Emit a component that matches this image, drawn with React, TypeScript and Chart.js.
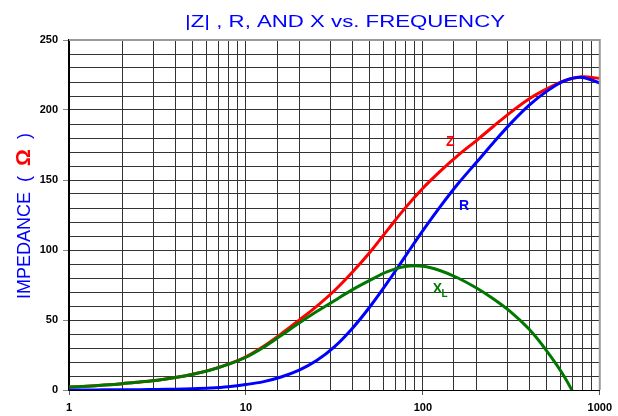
import { useEffect, useRef } from 'react';
import { Chart, registerables } from 'chart.js';

Chart.register(...registerables);

// ---- data (1/10-decade frequency steps) ----
const FREQ = [1, 1.26, 1.58, 2, 2.51, 3.16, 3.98, 5.01, 6.31, 7.94, 10, 12.6, 15.8, 20, 25.1, 31.6, 39.8, 50.1, 63.1, 79.4, 100, 126, 158, 200, 251, 316, 398, 501, 631, 794, 1000];
const Z_VALUES = [2.1, 2.7, 3.5, 4.5, 5.7, 7.0, 8.9, 11.3, 14.4, 18.5, 23.7, 31.2, 40.0, 49.9, 59.8, 70.9, 83.9, 98.2, 114.2, 129.9, 144.1, 156.5, 167.6, 178.0, 188.4, 198.7, 207.9, 215.1, 221.0, 223.7, 222.6];
const R_VALUES = [0.05, 0.07, 0.1, 0.15, 0.25, 0.4, 0.6, 0.95, 1.5, 2.4, 3.9, 6.0, 9.3, 14.2, 21.0, 30.8, 43.8, 59.3, 76.8, 95.3, 113.8, 131.3, 147.3, 162.3, 176.8, 190.8, 203.3, 213.3, 220.8, 223.3, 219.3];
const X_VALUES = [2.1, 2.7, 3.5, 4.5, 5.7, 7.0, 8.9, 11.3, 14.3, 18.3, 23.4, 30.6, 38.9, 47.8, 56.0, 63.8, 71.5, 78.3, 84.5, 88.2, 88.4, 85.2, 80.0, 73.0, 65.0, 55.5, 43.5, 28.0, 9.5, -14, -38];

const X_MIN = 1;
const X_MAX = 1000;
const Y_MIN = 0;
const Y_MAX = 250;
const Y_STEP = 10;
const Y_LABEL_STEP = 50;

const TITLE = '|Z| , R, AND X vs. FREQUENCY';
const Y_TITLE_PARTS = ['IMPEDANCE  (  ', 'Ω', '  )'];

const RED = '#ff0000';
const BLUE = '#0000ff';
const GREEN = '#007800';

// curve labels, placed in data coordinates (frequency, ohms)
const CURVE_LABEL_TEXT = ['Z', 'R', 'X'];
const CURVE_LABEL_SUB = ['', '', 'L'];
const CURVE_LABEL_FREQ = [143, 171, 121];
const CURVE_LABEL_VALUE = [177, 131, 72];
const CURVE_LABEL_COLOR = [RED, BLUE, GREEN];

const isPow10 = (v: number) => Math.abs(Math.log10(v) - Math.round(Math.log10(v))) < 1e-9;

const toPoints = (ys: number[]) => FREQ.map((f, i) => ({ x: f, y: ys[i] }));

const decorPlugin = {
  id: 'decor',
  afterDatasetsDraw(chart: any) {
    const ctx = chart.ctx;
    const xs = chart.scales.x;
    const ys = chart.scales.y;
    ctx.save();
    ctx.textAlign = 'center';
    ctx.textBaseline = 'middle';
    for (let i = 0; i < CURVE_LABEL_TEXT.length; i++) {
      const px = xs.getPixelForValue(CURVE_LABEL_FREQ[i]);
      const py = ys.getPixelForValue(CURVE_LABEL_VALUE[i]);
      ctx.fillStyle = CURVE_LABEL_COLOR[i];
      ctx.font = 'bold 14px "Liberation Sans", Arial, sans-serif';
      ctx.fillText(CURVE_LABEL_TEXT[i], px, py);
      if (CURVE_LABEL_SUB[i]) {
        ctx.font = 'bold 10px "Liberation Sans", Arial, sans-serif';
        ctx.fillText(CURVE_LABEL_SUB[i], px + 7, py + 5);
      }
    }
    ctx.restore();
  },
  afterDraw(chart: any) {
    const ctx = chart.ctx;
    const a = chart.chartArea;
    ctx.save();
    // gray frame top & right
    ctx.strokeStyle = '#9a9a9a';
    ctx.lineWidth = 2;
    ctx.beginPath();
    ctx.moveTo(a.left, a.top);
    ctx.lineTo(a.right, a.top);
    ctx.lineTo(a.right, a.bottom);
    ctx.stroke();

    // title
    ctx.font = '17px "Liberation Sans", Arial, sans-serif';
    ctx.fillStyle = BLUE;
    ctx.textAlign = 'center';
    ctx.textBaseline = 'alphabetic';
    const w = ctx.measureText(TITLE).width;
    ctx.save();
    ctx.translate(345, 27);
    ctx.scale(320 / w, 1);
    ctx.fillText(TITLE, 0, 0);
    ctx.restore();

    // y title
    const fonts = ['18px "Liberation Sans", Arial, sans-serif', 'bold 21px "Liberation Sans", Arial, sans-serif', '18px "Liberation Sans", Arial, sans-serif'];
    const colors = [BLUE, RED, BLUE];
    const widths = Y_TITLE_PARTS.map((t, i) => {
      ctx.font = fonts[i];
      return ctx.measureText(t).width;
    });
    const total = widths.reduce((s, v) => s + v, 0);
    ctx.save();
    ctx.translate(30, 216);
    ctx.rotate(-Math.PI / 2);
    ctx.textAlign = 'left';
    let x = -total / 2;
    Y_TITLE_PARTS.forEach((t, i) => {
      ctx.font = fonts[i];
      ctx.fillStyle = colors[i];
      ctx.fillText(t, x, 0);
      x += widths[i];
    });
    ctx.restore();
    ctx.restore();
  },
};

export default function App() {
  const ref = useRef<HTMLCanvasElement | null>(null);
  useEffect(() => {
    document.body.style.margin = '0';
    const canvas = ref.current;
    if (!canvas) return;
    const common = { borderWidth: 3, pointRadius: 0, tension: 0.35, fill: false };
    const chart = new Chart(canvas, {
      type: 'line',
      data: {
        datasets: [
          { label: 'X', data: toPoints(X_VALUES), borderColor: GREEN, ...common },
          { label: 'R', data: toPoints(R_VALUES), borderColor: BLUE, ...common },
          { label: 'Z', data: toPoints(Z_VALUES), borderColor: RED, ...common },
        ],
      },
      options: {
        responsive: false,
        animation: false,
        devicePixelRatio: 1,
        layout: { padding: { left: 0, right: 17, top: 40, bottom: 0 } },
        plugins: { legend: { display: false }, tooltip: { enabled: false }, title: { display: false } },
        scales: {
          x: {
            type: 'logarithmic',
            min: X_MIN,
            max: X_MAX,
            afterFit: (s: any) => { s.height = 26; },
            border: { display: true, color: '#000', width: 1 },
            grid: {
              color: '#333',
              lineWidth: 1,
              drawTicks: true,
              tickLength: 5,
              tickColor: (c: any) => (c.tick && isPow10(c.tick.value) ? '#555' : 'rgba(0,0,0,0)'),
            },
            ticks: {
              autoSkip: false,
              maxRotation: 0,
              minRotation: 0,
              padding: 6,
              color: '#000',
              font: { family: '"Liberation Sans", Arial, sans-serif', size: 11, weight: 'bold' },
              callback: (v: any) => (isPow10(Number(v)) ? String(Math.round(Number(v))) : ''),
            },
          },
          y: {
            type: 'linear',
            min: Y_MIN,
            max: Y_MAX,
            afterFit: (s: any) => { s.width = 69; },
            border: { display: true, color: '#000', width: 2 },
            grid: {
              color: '#333',
              lineWidth: 1,
              drawTicks: true,
              tickLength: 6,
              tickColor: (c: any) => (c.tick && c.tick.value % Y_LABEL_STEP === 0 ? '#888' : 'rgba(0,0,0,0)'),
            },
            ticks: {
              stepSize: Y_STEP,
              autoSkip: false,
              padding: 5,
              color: '#000',
              font: { family: '"Liberation Sans", Arial, sans-serif', size: 11, weight: 'bold' },
              callback: (v: any) => (Number(v) % Y_LABEL_STEP === 0 ? String(v) : ''),
            },
          },
        },
      },
      plugins: [decorPlugin],
    } as any);
    return () => chart.destroy();
  }, []);
  return <canvas ref={ref} width={618} height={416} style={{ display: 'block', width: '618px', height: '416px' }} />;
}
